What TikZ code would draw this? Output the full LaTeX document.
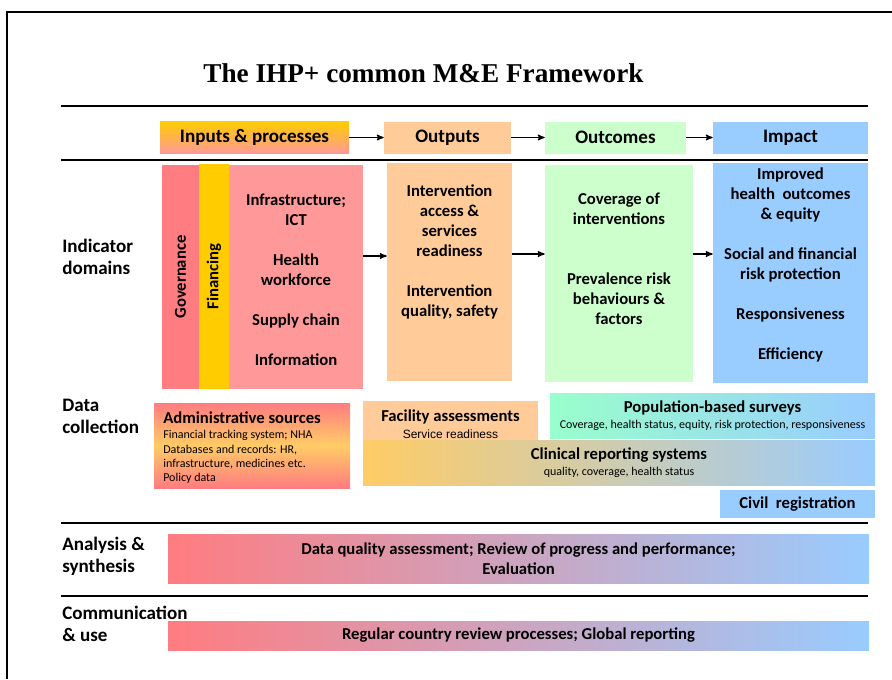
\documentclass[tikz,border=0pt]{standalone}
\usepackage{fontspec}
\setmainfont{Carlito}
\newfontfamily\titlefont{Liberation Serif}
\newfontfamily\arialfont{Liberation Sans}
\usepackage{tikz}
\usetikzlibrary{positioning,shapes,arrows}
\definecolor{govred}{HTML}{FF7C80}
\definecolor{fingold}{HTML}{FFCC00}
\definecolor{inpink}{HTML}{FF9999}
\definecolor{outpeach}{HTML}{FFCC99}
\definecolor{ocgreen}{HTML}{CCFFCC}
\definecolor{impblue}{HTML}{99CCFF}
\definecolor{mint}{HTML}{99FFCC}
\definecolor{amber}{HTML}{FFCC66}
\tikzset{
        ->,  % directed edges
        >=stealth', % small solid arrow heads
        box/.style={inner sep=0pt, align=center, font=\fontsize{12.5}{15}\selectfont\bfseries},
        wh/.style 2 args={minimum width=#1*0.75pt, minimum height=#2*0.75pt}, % size in pixels
        head/.style={box, font=\fontsize{14.3}{17}\selectfont\bfseries},
        rowlab/.style={anchor=west, align=left, inner sep=0pt, font=\fontsize{14.3}{16.5}\selectfont\bfseries},
        subtxt/.style={font=\fontsize{9}{10.7}\selectfont},
        rule/.style={-, line width=1.5pt},
}
\begin{document}
\begin{tikzpicture}[x=0.75pt,y=-0.75pt]
\useasboundingbox (0,0) rectangle (892,679);
\draw[-, line width=1.1pt] (7,679) -- (7,12) -- (892,12);
\node[font=\titlefont\bfseries\fontsize{20.4}{24}\selectfont] (title) at (423.5,73) {The IHP+ common M\&E Framework};

\draw[rule] (61,106) -- (868,106);
\draw[rule, line width=2pt] (61,160) -- (868,160);
\draw[rule] (61,523) -- (868,523);
\draw[rule] (61,596) -- (868,596);

% header row
\node[head, wh={189}{32}, top color=fingold, bottom color=inpink] (inp) at (254.5,137.5) {Inputs \& processes};
\node[head, wh={127}{32}, fill=outpeach] (outh) at (447.5,137.5) {Outputs};
\node[head, wh={141}{32}, fill=ocgreen] (outch) at (615.5,137.5) {Outcomes};
\node[head, wh={155}{32}, fill=impblue] (imph) at (790.5,137.5) {Impact};
\draw[->, line width=0.9pt] (inp) -- (outh);
\draw[->, line width=0.9pt] (outh) -- (outch);
\draw[->, line width=0.9pt] (outch) -- (imph);

% indicator domains
\node[rowlab] (indlab) at (62,257) {Indicator\\domains};
\node[box, wh={224}{37}, rotate=90, fill=govred] (gov) at (180.5,277) {Governance};
\node[box, wh={225}{30}, rotate=90, fill=fingold] (fin) at (214,276.5) {Financing};
\node[box, wh={134}{224}, fill=inpink] (inproc) at (296,277) {};
\node[box] (inproc-t) at (296,280) {Infrastructure;\\ICT\\[15pt]Health\\workforce\\[15pt]Supply chain\\[15pt]Information};
\node[box, wh={125}{218}, fill=outpeach] (outd) at (449.5,272) {};
\node[box] (outd-t) at (449.5,252) {Intervention\\access \&\\services\\readiness\\[15pt]Intervention\\quality, safety};
\node[box, wh={148}{217}, fill=ocgreen] (outcd) at (619,273.5) {};
\node[box] (outcd-t) at (619,259) {Coverage of\\interventions\\[30pt]Prevalence risk\\behaviours \&\\factors};
\node[box, wh={155}{220}, fill=impblue] (impd) at (790.5,273) {};
\node[box] (impd-t) at (790.5,264.5) {Improved\\health~ outcomes\\\& equity\\[15pt]Social and financial\\risk protection\\[15pt]Responsiveness\\[15pt]Efficiency};
\draw[->, line width=0.9pt] (inproc.east |- 0,256) -- (outd.west |- 0,256);
\draw[->, line width=0.9pt] (outd.east |- 0,254) -- (outcd.west |- 0,254);
\draw[->, line width=0.9pt] (outcd.east |- 0,254) -- (impd.west |- 0,254);

% data collection
\node[rowlab] (datalab) at (62,416) {Data\\collection};
\node[box, wh={196}{85}, top color=govred, bottom color=govred, middle color=amber] (admin) at (252,445.5) {};
\node[box, anchor=west] (admin-h) at (163,418) {Administrative sources};
\node[subtxt, anchor=west, align=left, inner sep=0pt] (admin-t) at (163,457) {Financial tracking system; NHA\\Databases and records: HR,\\infrastructure, medicines etc.\\Policy data};
\node[box, wh={175}{47}, fill=outpeach] (facil) at (450.5,424.5) {Facility assessments\\[-2.5pt]{\arialfont\mdseries\fontsize{9}{10}\selectfont Service readiness}};
\node[box, wh={325}{45}, left color=mint, right color=impblue] (popul) at (712.5,415.5) {Population-based surveys\\[-2.5pt]{\mdseries\fontsize{9}{10}\selectfont Coverage, health status, equity, risk protection, responsiveness}};
\node[box, wh={512}{45}, left color=amber, right color=impblue] (clin) at (619,462.5) {Clinical reporting systems\\[-2.5pt]{\mdseries\fontsize{9}{10}\selectfont quality, coverage, health status}};
\node[box, wh={155}{28}, fill=impblue] (civil) at (797.5,504) {Civil~ registration};

% analysis and communication
\node[rowlab] (anlab) at (62,556) {Analysis \&\\synthesis};
\node[box, wh={701}{49}, left color=govred, right color=impblue] (anal) at (518.5,558.5) {Data quality assessment; Review of progress and performance;\\Evaluation};
\node[rowlab] (comlab) at (62,623.5) {Communication\\\& use};
\node[box, wh={701}{29}, left color=govred, right color=impblue] (comm) at (518.5,635.5) {Regular country review processes; Global reporting};

\end{tikzpicture}
\end{document}
